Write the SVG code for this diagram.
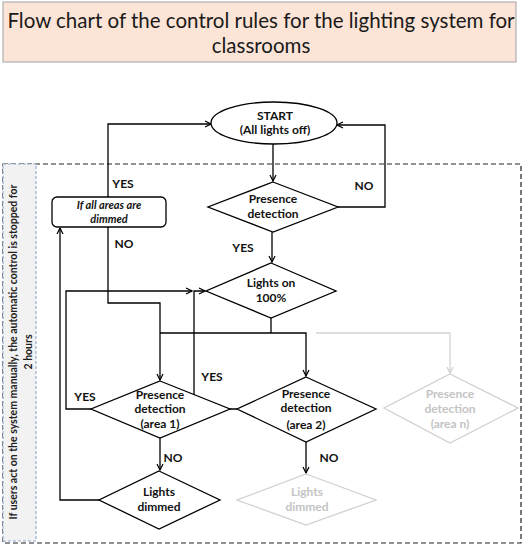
<svg xmlns="http://www.w3.org/2000/svg" width="527" height="548" viewBox="0 0 527 548">
<defs>
<marker id="arr" markerUnits="userSpaceOnUse" markerWidth="8" markerHeight="8" viewBox="0 0 8 8" refX="7.5" refY="4" orient="auto">
<path d="M1.5,1 L7.5,4 L1.5,7" fill="none" stroke="#000" stroke-width="1.2"/>
</marker>
<marker id="arrg" markerUnits="userSpaceOnUse" markerWidth="8" markerHeight="8" viewBox="0 0 8 8" refX="7.5" refY="4" orient="auto">
<path d="M1.5,1 L7.5,4 L1.5,7" fill="none" stroke="#d0d0d0" stroke-width="1.2"/>
</marker>
</defs>
<style>
text{font-family:Lato,"Open Sans","Liberation Sans",sans-serif;}
.t{font-size:12px;font-weight:bold;fill:#111;text-anchor:middle;}
.ti{font-size:11px;font-weight:bold;font-style:italic;fill:#111;text-anchor:middle;}
.tg{font-size:12px;font-weight:bold;fill:#c4c4c4;text-anchor:middle;}
.shape{fill:#fff;stroke:#000;stroke-width:1.3;}
.shapeg{fill:#fff;stroke:#d0d0d0;stroke-width:1.3;}
.c{fill:none;stroke:#000;stroke-width:1.3;}
.cg{fill:none;stroke:#d4d4d4;stroke-width:1.3;}
.title{font-size:20.5px;fill:#1a1a1a;text-anchor:middle;}
</style>
<rect width="527" height="548" fill="#fff"/>
<g id="title">
<rect x="3" y="2" width="513" height="60" fill="#fce4d6" stroke="#b0b0b0" stroke-width="1.2"/>
<text class="title" x="261" y="28">Flow chart of the control rules for the lighting system for</text>
<text class="title" x="261" y="53">classrooms</text>
</g>
<g id="frame">
<rect x="3" y="164" width="518" height="379" fill="none" stroke="#222" stroke-width="1.2" stroke-dasharray="5 3"/>
</g>
<g id="manual-note">
<rect x="3" y="164" width="33" height="377" fill="#f2f2f2" stroke="#8eaacb" stroke-width="1.1" stroke-dasharray="3 2"/>
<text transform="rotate(-90)" x="-352" y="17" font-size="10.5" font-weight="bold" fill="#222" text-anchor="middle">If users act on the system manually, the automatic control is stopped for</text>
<text transform="rotate(-90)" x="-352" y="32" font-size="10.5" font-weight="bold" fill="#222" text-anchor="middle">2 hours</text>
</g>
<g id="connectors">
<path class="c" d="M273,144 V181" marker-end="url(#arr)"/>
<path class="c" d="M338,207 H385 V125 H337" marker-end="url(#arr)"/>
<path class="c" d="M272,232 V262" marker-end="url(#arr)"/>
<path class="c" d="M271,317 V333"/>
<path class="c" d="M160,333 H306 V376" marker-end="url(#arr)"/>
<path class="cg" d="M316,333 H450 V373" marker-end="url(#arrg)"/>
<path class="c" d="M108,197 V124 H211" marker-end="url(#arr)"/>
<path class="c" d="M108,227 V303 H160 V380" marker-end="url(#arr)"/>
<path class="c" d="M91,409 H66 V291 H192" marker-end="url(#arr)"/>
<path class="c" d="M237,409 H194 V291 H205" marker-end="url(#arr)"/>
<path class="c" d="M160,438 V470" marker-end="url(#arr)"/>
<path class="c" d="M99,500 H60 V228" marker-end="url(#arr)"/>
<path class="c" d="M306,442 V473" marker-end="url(#arr)"/>
<text class="t" x="123" y="188">YES</text>
<text class="t" x="124" y="248">NO</text>
<text class="t" x="364" y="190">NO</text>
<text class="t" x="243" y="252">YES</text>
<text class="t" x="85" y="401">YES</text>
<text class="t" x="212" y="381">YES</text>
<text class="t" x="173" y="462">NO</text>
<text class="t" x="329" y="462">NO</text>
</g>
<g id="start">
<ellipse class="shape" cx="274" cy="123" rx="63" ry="21"/>
<text class="t" x="275" y="120">START</text>
<text class="t" x="275" y="134">(All lights off)</text>
</g>
<g id="presence">
<polygon class="shape" points="273,182 338,207 273,232 208,207"/>
<text class="t" x="273" y="203">Presence</text>
<text class="t" x="273" y="218">detection</text>
</g>
<g id="all-dimmed">
<rect class="shape" x="52" y="197" width="114" height="30" rx="5"/>
<text class="ti" x="109" y="208.5">If all areas are</text>
<text class="ti" x="109" y="222.5">dimmed</text>
</g>
<g id="lights-on">
<polygon class="shape" points="271,263 336,291 271,318 206,291"/>
<text class="t" x="271" y="287">Lights on</text>
<text class="t" x="271" y="302">100%</text>
</g>
<g id="area1">
<polygon class="shape" points="160,381 230,409 160,438 91,409"/>
<text class="t" x="160" y="399">Presence</text>
<text class="t" x="160" y="413">detection</text>
<text class="t" x="160" y="428">(area 1)</text>
</g>
<g id="area2">
<polygon class="shape" points="306,377 376,409 306,442 237,409" style="fill:none"/>
<text class="t" x="306" y="398">Presence</text>
<text class="t" x="306" y="412">detection</text>
<text class="t" x="306" y="429">(area 2)</text>
</g>
<g id="arean">
<polygon class="shapeg" points="450,374 518,408 450,443 384,408"/>
<text class="tg" x="450" y="398">Presence</text>
<text class="tg" x="450" y="413">detection</text>
<text class="tg" x="450" y="428">(area n)</text>
</g>
<g id="dimmed1">
<polygon class="shape" points="159,471 220,500 159,529 99,500"/>
<text class="t" x="159" y="496">Lights</text>
<text class="t" x="159" y="511">dimmed</text>
</g>
<g id="dimmed2">
<polygon class="shapeg" points="306,474 376,500 306,525 237,500"/>
<text class="tg" x="307" y="496">Lights</text>
<text class="tg" x="307" y="511">dimmed</text>
</g>
</svg>
